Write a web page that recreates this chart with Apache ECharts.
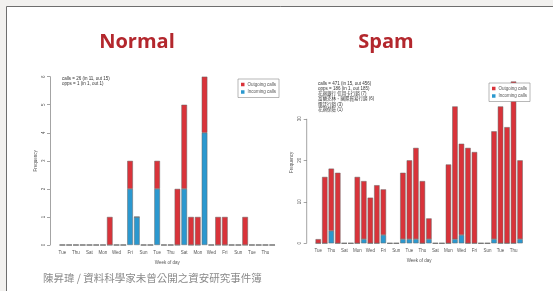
<!DOCTYPE html>
<html>
<head>
<meta charset="utf-8">
<script src="https://cdn.jsdelivr.net/npm/echarts@6/dist/echarts.min.js"></script>
<style>
html,body{margin:0;padding:0;background:#f2f1ef;}
#main{width:553px;height:291px;}
</style>
</head>
<body>
<div id="main"></div>
<script>
// 每天的通話次數 (incoming 在下, outgoing 疊在上面)
var days = ['Tue','Wed','Thu','Fri','Sat','Sun','Mon','Tue','Wed','Thu','Fri','Sat','Sun','Mon','Tue','Wed',
            'Thu','Fri','Sat','Sun','Mon','Tue','Wed','Thu','Fri','Sat','Sun','Mon','Tue','Wed','Thu','Fri'];
var normalIn  = [0,0,0,0,0,0,0,0,0,0,2,1,0,0,2,0,0,0,2,0,0,4,0,0,0,0,0,0,0,0,0,0];
var normalOut = [0,0,0,0,0,0,0,1,0,0,1,0,0,0,1,0,0,2,3,1,1,2,0,1,1,0,0,1,0,0,0,0];
var spamIn  = [0,0,3,0,0,0,0,1,0,0,2,0,0,1,1,1,0,1,0,0,0,1,2,0,0,0,0,1,0,0,0,1];
var spamOut = [1,16,15,17,0,0,16,14,11,14,11,0,0,16,19,22,15,5,0,0,19,32,22,23,22,0,0,26,33,28,39,19];
var normalTicks = [0,1,2,3,4,5,6];
var spamTicks = [0,10,20,30];
var normalNotes = ['calls = 26 (in 11, out 15)', 'opps = 1 (in 1, out 1)'];
var spamNotes = ['calls = 471 (in 15, out 456)', 'opps = 186 (in 1, out 185)',
                 '花旗銀行 信用卡行銷 (7)', '富蘭克林、國際貿易行銷 (6)', '電話行銷 (3)', '花旗保險 (1)'];

var RED = '#d9333a', BLUE = '#2b98cf', INK = '#555';
var FONT = 'Liberation Sans';

var myChart = echarts.init(document.getElementById('main'));

function xAxisOf(grid, gap) {
    return {
        type: 'category', gridIndex: grid, data: days,
        axisLine: {show: false}, axisTick: {show: false},
        axisLabel: {interval: 1, fontSize: 4.5, color: INK, margin: 5, fontFamily: FONT},
        name: 'Week of day', nameLocation: 'middle', nameGap: gap,
        nameTextStyle: {fontSize: 4.5, color: INK, fontFamily: FONT}
    };
}

function barSeries(name, grid, stack, color, data) {
    return {
        name: name, type: 'bar', stack: stack, xAxisIndex: grid, yAxisIndex: grid,
        barCategoryGap: '17%', data: data, animation: false,
        itemStyle: {color: color, borderColor: '#666', borderWidth: 0.5}
    };
}

function legendAt(left, top) {
    return {
        left: left, top: top, orient: 'vertical', selectedMode: false,
        data: ['Outgoing calls', 'Incoming calls'], icon: 'rect',
        itemWidth: 3.5, itemHeight: 3.5, itemGap: 2.5, padding: [3, 3, 3, 3],
        borderColor: '#888', borderWidth: 0.6, backgroundColor: '#fff',
        itemStyle: {borderWidth: 0},
        textStyle: {fontSize: 4.5, color: INK, fontFamily: FONT, padding: [0, 0, 0, -2]},
        z: 20
    };
}

function noteTexts(list, x, y0, step) {
    return list.map(function (t, i) {
        return {type: 'text', x: x, y: y0 + i * step, z: 30,
            style: {text: t, fontSize: 4.5, fill: '#333',
                fontFamily: FONT + ', "Noto Sans CJK TC"', verticalAlign: 'middle'}};
    });
}

var graphics = [
    {type: 'rect', z: -5, shape: {x: 6.5, y: 6.5, width: 600, height: 400},
     style: {fill: '#fff', stroke: '#6e6e6e', lineWidth: 1}},
    {type: 'text', x: 137, y: 42, style: {text: 'Normal', fill: '#b3272d', fontSize: 20, fontWeight: 'bold',
        fontFamily: 'Open Sans', align: 'center', verticalAlign: 'middle'}},
    {type: 'text', x: 386, y: 42, style: {text: 'Spam', fill: '#b3272d', fontSize: 20, fontWeight: 'bold',
        fontFamily: 'Open Sans', align: 'center', verticalAlign: 'middle'}},
    {type: 'text', x: 43, y: 278, style: {text: '陳昇瑋 / 資料科學家未曾公開之資安研究事件簿', fill: '#8a8a8a',
        fontSize: 10.5, fontFamily: '"Noto Sans CJK TC"', verticalAlign: 'middle'}}
].concat(noteTexts(normalNotes, 62, 79, 5)).concat(noteTexts(spamNotes, 318, 83.3, 5.3));

option = {
    animation: false,
    grid: [
        {left: 59, right: 277.4, top: 76.7, bottom: 46},
        {left: 315, right: 29.7, top: 81.5, bottom: 47.7}
    ],
    legend: [legendAt(238, 79), legendAt(489, 83)],
    xAxis: [xAxisOf(0, 15), xAxisOf(1, 14)],
    yAxis: [
        {
            type: 'value', gridIndex: 0, min: 0, max: 6, interval: 1, offset: 9,
            splitLine: {show: false},
            axisLine: {show: true, lineStyle: {color: '#666', width: 0.6}},
            axisTick: {show: true, length: 3, lineStyle: {color: '#666', width: 0.6}},
            axisLabel: {rotate: 90, fontSize: 4.5, color: INK, margin: 4, fontFamily: FONT},
            name: 'Frequency', nameLocation: 'middle', nameGap: 12, nameRotate: 90,
            nameTextStyle: {fontSize: 4.5, color: INK, fontFamily: FONT}
        },
        {
            type: 'value', gridIndex: 1, min: 0, max: 39, offset: 8.3,
            splitLine: {show: false},
            axisLine: {show: false},
            axisTick: {show: true, length: 3, customValues: spamTicks, lineStyle: {color: '#666', width: 0.6}},
            axisLabel: {rotate: 90, fontSize: 4.5, color: INK, margin: 4, fontFamily: FONT, customValues: spamTicks},
            name: 'Frequency', nameLocation: 'middle', nameGap: 12, nameRotate: 90,
            nameTextStyle: {fontSize: 4.5, color: INK, fontFamily: FONT}
        }
    ],
    graphic: graphics,
    series: [
        barSeries('Incoming calls', 0, 'n', BLUE, normalIn),
        barSeries('Outgoing calls', 0, 'n', RED, normalOut),
        barSeries('Incoming calls', 1, 's', BLUE, spamIn),
        barSeries('Outgoing calls', 1, 's', RED, spamOut)
    ]
};

myChart.setOption(option);

// R 的 y 軸線只畫到最後一個刻度 (30)
var p0 = myChart.convertToPixel({yAxisIndex: 1}, 0);
var p30 = myChart.convertToPixel({yAxisIndex: 1}, spamTicks[spamTicks.length - 1]);
var axX = 315 - 8.3;
graphics.push({type: 'line', z: 10, shape: {x1: axX, y1: p0, x2: axX, y2: p30},
    style: {stroke: '#666', lineWidth: 0.6}});
myChart.setOption({graphic: graphics});
</script>
</body>
</html>
